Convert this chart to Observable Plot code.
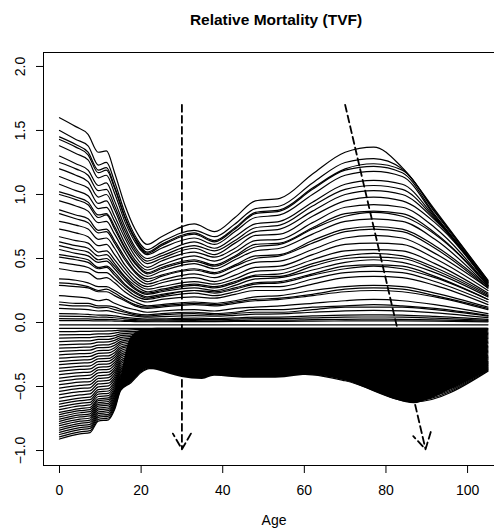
<!DOCTYPE html>
<html><head><meta charset="utf-8">
<script src="https://cdn.jsdelivr.net/npm/d3@7"></script>
<script src="https://cdn.jsdelivr.net/npm/@observablehq/plot@0.6"></script>
<style>body{margin:0;background:#fff;}</style>
</head><body><div id="chart"></div>
<script>
const titleText = "Relative Mortality (TVF)";
const xLabel = "Age";
const xTicks = [0, 20, 40, 60, 80, 100];
const yTicks = [-1, -0.5, 0, 0.5, 1, 1.5, 2];

// Curves above zero (earlier years), values at these ages
const upperAges = [0,4,7,9.5,11.5,13.5,16,18.5,21.5,25,33,38,43,48,54,62,70,77,84,92,105];
const upperCurves = [
[1.60,1.53,1.47,1.33,1.34,1.17,0.92,0.73,0.61,0.67,0.77,0.71,0.82,0.95,0.97,1.16,1.33,1.37,1.21,0.88,0.33],
[1.50,1.43,1.38,1.23,1.25,1.10,0.86,0.68,0.57,0.63,0.72,0.67,0.77,0.89,0.91,1.09,1.25,1.28,1.20,0.87,0.33],
[1.45,1.39,1.33,1.19,1.21,1.06,0.83,0.66,0.55,0.61,0.70,0.64,0.74,0.86,0.88,1.05,1.20,1.24,1.19,0.86,0.32],
[1.43,1.37,1.31,1.17,1.19,1.05,0.82,0.65,0.54,0.60,0.69,0.63,0.73,0.85,0.87,1.04,1.19,1.22,1.17,0.84,0.32],
[1.38,1.32,1.27,1.13,1.15,1.01,0.79,0.63,0.53,0.58,0.66,0.61,0.71,0.82,0.84,1.00,1.15,1.18,1.14,0.83,0.31],
[1.30,1.24,1.19,1.07,1.09,0.95,0.75,0.59,0.50,0.54,0.63,0.58,0.67,0.77,0.79,0.94,1.08,1.11,1.08,0.82,0.31],
[1.25,1.20,1.15,1.03,1.04,0.91,0.72,0.57,0.48,0.52,0.60,0.56,0.64,0.74,0.76,0.91,1.04,1.07,1.04,0.81,0.31],
[1.20,1.15,1.10,0.98,1.00,0.88,0.69,0.55,0.46,0.50,0.58,0.53,0.62,0.71,0.73,0.87,1.00,1.03,1.00,0.80,0.30],
[1.14,1.09,1.05,0.93,0.95,0.83,0.66,0.52,0.43,0.48,0.55,0.51,0.58,0.68,0.69,0.83,0.95,0.98,0.95,0.78,0.30],
[1.08,1.03,0.99,0.89,0.90,0.79,0.62,0.49,0.41,0.45,0.52,0.48,0.55,0.64,0.65,0.78,0.90,0.92,0.90,0.74,0.29],
[1.02,0.98,0.94,0.84,0.85,0.75,0.59,0.47,0.39,0.43,0.49,0.45,0.52,0.61,0.62,0.74,0.85,0.87,0.85,0.70,0.29],
[1.00,0.96,0.92,0.82,0.84,0.73,0.58,0.46,0.38,0.42,0.48,0.44,0.51,0.59,0.61,0.73,0.83,0.86,0.83,0.69,0.29],
[0.95,0.91,0.87,0.78,0.79,0.69,0.55,0.43,0.36,0.40,0.46,0.42,0.49,0.56,0.58,0.69,0.79,0.81,0.79,0.65,0.28],
[0.88,0.84,0.81,0.72,0.73,0.64,0.51,0.40,0.34,0.37,0.42,0.39,0.45,0.52,0.53,0.64,0.73,0.75,0.73,0.60,0.28],
[0.85,0.81,0.78,0.70,0.71,0.62,0.49,0.39,0.32,0.36,0.41,0.38,0.44,0.50,0.52,0.62,0.71,0.73,0.71,0.58,0.27],
[0.79,0.76,0.73,0.65,0.66,0.58,0.45,0.36,0.30,0.33,0.38,0.35,0.41,0.47,0.48,0.57,0.66,0.68,0.66,0.54,0.27],
[0.73,0.70,0.67,0.60,0.61,0.53,0.42,0.33,0.28,0.31,0.35,0.32,0.37,0.43,0.44,0.53,0.61,0.62,0.61,0.50,0.25],
[0.67,0.64,0.62,0.55,0.56,0.49,0.39,0.31,0.26,0.28,0.32,0.30,0.34,0.40,0.41,0.49,0.56,0.57,0.56,0.46,0.23],
[0.63,0.60,0.58,0.52,0.53,0.46,0.36,0.29,0.24,0.26,0.30,0.28,0.32,0.37,0.38,0.46,0.52,0.54,0.52,0.43,0.22],
[0.60,0.57,0.55,0.49,0.50,0.44,0.35,0.27,0.23,0.25,0.29,0.27,0.31,0.36,0.36,0.44,0.50,0.51,0.50,0.41,0.21],
[0.57,0.54,0.52,0.47,0.48,0.42,0.33,0.26,0.22,0.24,0.27,0.25,0.29,0.34,0.35,0.41,0.47,0.49,0.47,0.39,0.20],
[0.53,0.51,0.49,0.43,0.44,0.39,0.30,0.24,0.20,0.22,0.25,0.24,0.27,0.31,0.32,0.38,0.44,0.45,0.44,0.36,0.18],
[0.51,0.49,0.47,0.42,0.43,0.37,0.29,0.23,0.19,0.21,0.25,0.23,0.26,0.30,0.31,0.37,0.42,0.44,0.42,0.35,0.18],
[0.47,0.45,0.43,0.39,0.39,0.34,0.27,0.21,0.18,0.20,0.23,0.21,0.24,0.28,0.28,0.34,0.39,0.40,0.39,0.32,0.16],
[0.42,0.40,0.39,0.34,0.35,0.31,0.24,0.19,0.16,0.18,0.20,0.19,0.22,0.25,0.25,0.30,0.35,0.36,0.35,0.29,0.14],
[0.34,0.33,0.31,0.28,0.28,0.25,0.20,0.16,0.13,0.14,0.16,0.15,0.17,0.20,0.21,0.25,0.28,0.29,0.28,0.23,0.12],
[0.31,0.30,0.28,0.25,0.26,0.23,0.18,0.14,0.12,0.13,0.15,0.14,0.16,0.18,0.19,0.22,0.26,0.27,0.26,0.21,0.11],
[0.29,0.28,0.27,0.24,0.24,0.21,0.17,0.13,0.11,0.12,0.14,0.13,0.15,0.17,0.18,0.21,0.24,0.25,0.24,0.20,0.10],
[0.21,0.20,0.19,0.17,0.18,0.15,0.12,0.10,0.08,0.09,0.10,0.09,0.11,0.12,0.13,0.15,0.17,0.18,0.17,0.14,0.07],
[0.16,0.15,0.15,0.13,0.13,0.12,0.09,0.07,0.06,0.07,0.08,0.07,0.08,0.10,0.10,0.12,0.13,0.14,0.13,0.11,0.055],
[0.14,0.13,0.13,0.115,0.117,0.10,0.08,0.06,0.05,0.06,0.07,0.06,0.07,0.08,0.08,0.10,0.12,0.12,0.12,0.10,0.05],
[0.11,0.105,0.101,0.09,0.092,0.08,0.063,0.05,0.042,0.046,0.053,0.049,0.056,0.065,0.067,0.08,0.091,0.094,0.091,0.075,0.038],
[0.07,0.067,0.064,0.057,0.058,0.051,0.04,0.032,0.027,0.029,0.034,0.031,0.036,0.042,0.042,0.051,0.058,0.06,0.058,0.048,0.024],
[0.05,0.048,0.046,0.041,0.042,0.037,0.029,0.023,0.019,0.021,0.024,0.022,0.026,0.03,0.03,0.036,0.042,0.043,0.042,0.034,0.017],
[0.03,0.029,0.028,0.025,0.025,0.022,0.017,0.014,0.011,0.013,0.014,0.013,0.015,0.018,0.018,0.022,0.025,0.026,0.025,0.021,0.01],
[0.015,0.014,0.014,0.012,0.013,0.011,0.009,0.007,0.006,0.006,0.007,0.007,0.008,0.009,0.009,0.011,0.012,0.013,0.012,0.01,0.005],
[-0.018,-0.018,-0.018,-0.018,-0.018,-0.018,-0.018,-0.018,-0.018,-0.018,-0.018,-0.018,-0.018,-0.018,-0.018,-0.018,-0.018,-0.018,-0.018,-0.018,-0.018]
];

// Curves below zero (later years), values at these ages
const lowerAges = [0,5,7.5,9.5,12,13.5,15,17.5,20,22,62,70,87,105];
const lowerCurves = [
[-.045,-.045,-.045,-.045,-.045,-.045,-.045,-.045,-.045,-.045,-.045,-.045,-.045,-.045],
[-.071,-.070,-.069,-.067,-.066,-.064,-.060,-.058,-.055,-.054,-.056,-.057,-.062,-.055],
[-.097,-.095,-.094,-.089,-.088,-.083,-.074,-.071,-.066,-.064,-.067,-.070,-.080,-.065],
[-.123,-.119,-.118,-.110,-.109,-.102,-.089,-.083,-.076,-.073,-.078,-.082,-.097,-.075],
[-.149,-.144,-.143,-.132,-.131,-.121,-.103,-.096,-.086,-.083,-.089,-.094,-.114,-.085],
[-.175,-.169,-.167,-.154,-.152,-.140,-.118,-.109,-.097,-.092,-.100,-.107,-.131,-.095],
[-.201,-.194,-.192,-.176,-.174,-.159,-.132,-.122,-.107,-.102,-.111,-.119,-.149,-.105],
[-.227,-.218,-.216,-.197,-.195,-.178,-.147,-.134,-.117,-.111,-.122,-.131,-.166,-.115],
[-.253,-.243,-.241,-.219,-.217,-.197,-.161,-.147,-.128,-.121,-.133,-.143,-.183,-.125],
[-.279,-.268,-.265,-.241,-.238,-.216,-.176,-.160,-.138,-.130,-.144,-.156,-.200,-.135],
[-.305,-.293,-.290,-.263,-.260,-.236,-.191,-.173,-.149,-.140,-.155,-.168,-.218,-.146],
[-.330,-.317,-.314,-.284,-.281,-.255,-.205,-.185,-.159,-.149,-.165,-.180,-.235,-.156],
[-.356,-.342,-.338,-.306,-.302,-.274,-.220,-.198,-.169,-.158,-.176,-.193,-.252,-.166],
[-.382,-.367,-.363,-.328,-.324,-.293,-.234,-.211,-.180,-.168,-.187,-.205,-.269,-.176],
[-.408,-.392,-.387,-.350,-.345,-.312,-.249,-.224,-.190,-.177,-.198,-.217,-.287,-.186],
[-.434,-.416,-.412,-.371,-.367,-.331,-.263,-.236,-.200,-.187,-.209,-.230,-.304,-.196],
[-.460,-.441,-.436,-.393,-.388,-.350,-.278,-.249,-.211,-.196,-.220,-.242,-.321,-.206],
[-.486,-.466,-.461,-.415,-.410,-.369,-.292,-.262,-.221,-.206,-.231,-.254,-.338,-.216],
[-.512,-.491,-.485,-.437,-.431,-.388,-.307,-.275,-.231,-.215,-.242,-.266,-.356,-.226],
[-.538,-.515,-.510,-.458,-.453,-.407,-.321,-.287,-.242,-.225,-.253,-.279,-.373,-.236],
[-.564,-.540,-.534,-.480,-.474,-.426,-.336,-.300,-.252,-.234,-.264,-.291,-.390,-.246],
[-.590,-.565,-.558,-.502,-.495,-.445,-.351,-.313,-.262,-.243,-.275,-.303,-.407,-.256],
[-.616,-.590,-.583,-.524,-.517,-.464,-.365,-.326,-.273,-.253,-.286,-.316,-.425,-.266],
[-.638,-.610,-.603,-.542,-.535,-.480,-.377,-.336,-.281,-.261,-.295,-.326,-.439,-.274],
[-.659,-.631,-.624,-.560,-.553,-.496,-.389,-.347,-.290,-.269,-.304,-.336,-.453,-.283],
[-.681,-.651,-.644,-.578,-.571,-.512,-.401,-.357,-.299,-.277,-.313,-.346,-.468,-.291],
[-.702,-.672,-.664,-.596,-.588,-.528,-.414,-.368,-.307,-.284,-.322,-.357,-.482,-.300],
[-.720,-.689,-.681,-.611,-.603,-.540,-.423,-.377,-.314,-.291,-.330,-.365,-.494,-.306],
[-.737,-.705,-.697,-.625,-.617,-.553,-.433,-.385,-.321,-.297,-.337,-.373,-.505,-.313],
[-.754,-.722,-.713,-.640,-.631,-.566,-.443,-.394,-.328,-.303,-.344,-.381,-.517,-.320],
[-.772,-.738,-.730,-.654,-.646,-.578,-.452,-.402,-.335,-.310,-.352,-.389,-.528,-.326],
[-.789,-.755,-.746,-.669,-.660,-.591,-.462,-.411,-.342,-.316,-.359,-.398,-.540,-.333],
[-.806,-.771,-.762,-.683,-.674,-.604,-.472,-.419,-.349,-.322,-.366,-.406,-.551,-.340],
[-.824,-.788,-.779,-.698,-.689,-.617,-.482,-.428,-.356,-.329,-.374,-.414,-.563,-.347],
[-.841,-.804,-.795,-.712,-.703,-.629,-.491,-.436,-.362,-.335,-.381,-.422,-.574,-.353],
[-.858,-.821,-.811,-.727,-.717,-.642,-.501,-.445,-.369,-.341,-.388,-.430,-.586,-.360],
[-.875,-.837,-.827,-.741,-.731,-.655,-.511,-.453,-.376,-.347,-.395,-.439,-.597,-.367],
[-.893,-.854,-.844,-.756,-.746,-.667,-.520,-.462,-.383,-.354,-.403,-.447,-.609,-.373],
[-.910,-.870,-.860,-.770,-.760,-.680,-.530,-.470,-.390,-.360,-.410,-.455,-.620,-.380]
];

// Dense (solid black) part of the lower bundle
const bandAges   = [15,17.5,20,21.5,24,30,35,38,45,53,62,70,78,83,87,90,97,105];
const bandTop    = [-.45,-.12,-.06,-.05,-.045,-.045,-.045,-.045,-.045,-.045,-.045,-.045,-.045,-.045,-.045,-.045,-.045,-.045];
const bandBottom = [-.53,-.47,-.39,-.36,-.375,-.43,-.445,-.42,-.435,-.435,-.41,-.455,-.55,-.61,-.635,-.61,-.505,-.38];

// Dashed arrows
const arrowStartAge = [30, 70];
const arrowStartVal = [1.70, 1.70];
const arrowEndAge   = [30, 89.7];
const arrowEndVal   = [-0.99, -0.99];

const xDomain = [-3.92, 106.6];
const yDomain = [-1.117, 2.109];

const upperRows = upperCurves.flatMap((c, k) => c.map((v, i) => ({age: upperAges[i], value: v, curve: "u" + k})));
const lowerRows = lowerCurves.flatMap((c, k) => c.map((v, i) => ({age: lowerAges[i], value: v, curve: "l" + k})));
const bandRows = bandAges.map((a, i) => ({age: a, hi: bandTop[i], lo: bandBottom[i]}));
const arrows = arrowStartAge.map((a, i) => ({x1: a, y1: arrowStartVal[i], x2: arrowEndAge[i], y2: arrowEndVal[i]}));
const fmt = d => d3.format(".1f")(d);

const chart = Plot.plot({
  width: 494, height: 531,
  marginLeft: 43, marginRight: 0, marginTop: 52, marginBottom: 66,
  x: {domain: xDomain},
  y: {domain: yDomain},
  style: {fontFamily: "'Liberation Sans', Arial, Helvetica, sans-serif", background: "white", color: "black"},
  marks: [
    Plot.areaY(bandRows, {x: "age", y1: "hi", y2: "lo", fill: "black", curve: "monotone-x"}),
    Plot.line(lowerRows, {x: "age", y: "value", z: "curve", stroke: "black", strokeWidth: 1.25, curve: "monotone-x"}),
    Plot.line(upperRows, {x: "age", y: "value", z: "curve", stroke: "black", strokeWidth: 1.2, curve: "monotone-x"}),
    Plot.arrow(arrows, {x1: "x1", y1: "y1", x2: "x2", y2: "y2", stroke: "black", strokeWidth: 1.8, strokeDasharray: "7,4", headLength: 15, headAngle: 60}),
    Plot.ruleY([yDomain[1], yDomain[0]], {stroke: "black", strokeWidth: 1}),
    Plot.ruleX([xDomain[0]], {stroke: "black", strokeWidth: 1}),
    Plot.axisX(xTicks, {tickSize: 8, tickPadding: 12, fontSize: 14, label: null, tickFormat: d => String(d)}),
    Plot.axisY(yTicks, {tickSize: 7, tickFormat: () => "", label: null}),
    Plot.text(yTicks, {x: xDomain[0], y: d => d, text: d => fmt(d), rotate: -90, dx: -23, fontSize: 14, textAnchor: "middle", lineAnchor: "middle"}),
    Plot.text([titleText], {frameAnchor: "top", dy: -32, dx: 7, fontWeight: "bold", fontSize: 15.5, lineAnchor: "middle"}),
    Plot.text([xLabel], {frameAnchor: "bottom", dy: 55, dx: 5, fontSize: 14, lineAnchor: "middle"})
  ]
});
document.getElementById("chart").append(chart);
</script></body></html>
